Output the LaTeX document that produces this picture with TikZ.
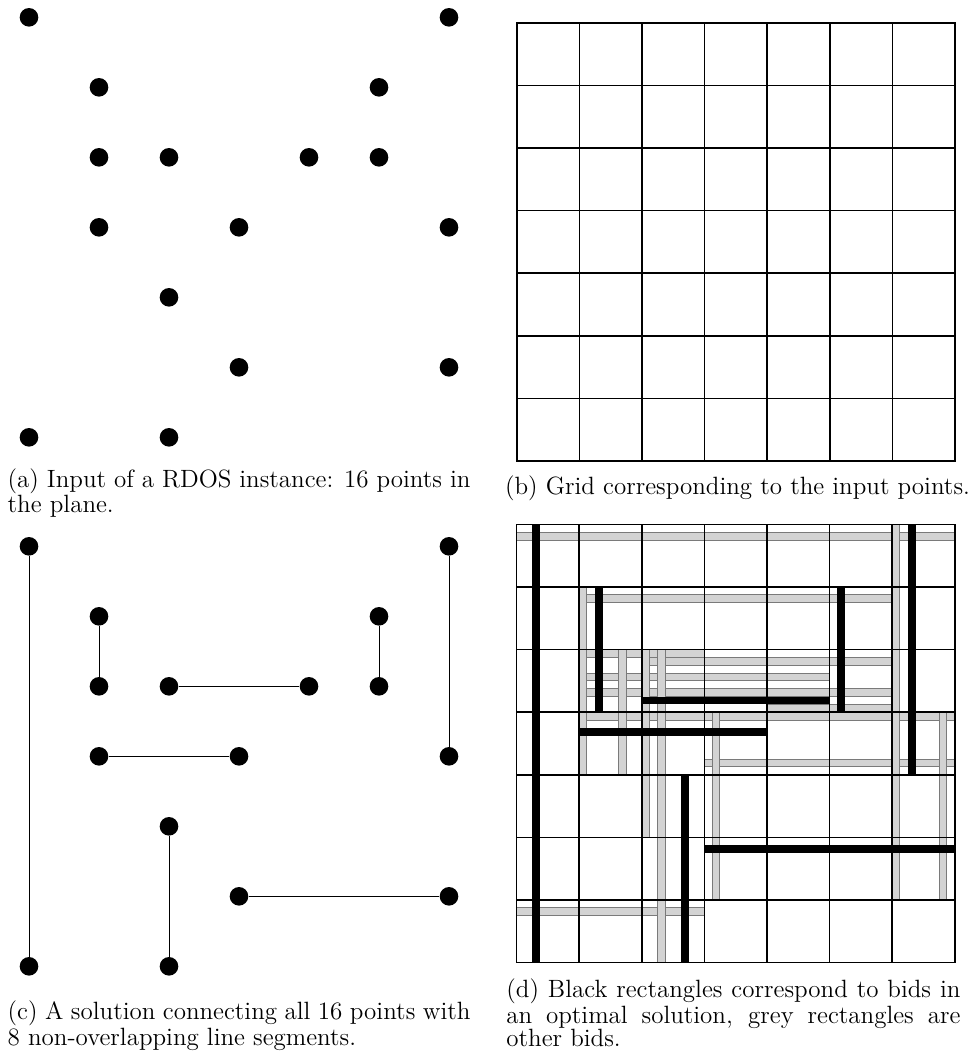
\documentclass[tikz,border=0pt]{standalone}
\usepackage{tikz}
\usetikzlibrary{positioning}
\definecolor{bidgrey}{HTML}{D3D3D3}
\definecolor{bidedge}{HTML}{7A7A7A}
\newcommand{\capfont}{\fontsize{12.5}{11.4}\selectfont}

\begin{document}
\begin{tikzpicture}[x=0.5pt,y=-0.5pt,
    dot/.style={circle,fill=black,inner sep=0pt,minimum size=9.3pt},
    seg/.style={black,line width=0.5pt},
    gridline/.style={black,line width=0.8pt},
    greybid/.style={fill=bidgrey,draw=bidedge,line width=0.5pt},
    blackbid/.style={fill=black},
    subcap/.style={inner sep=0pt,font=\capfont,align=justify}]
  \useasboundingbox (0,0) rectangle (970,1061);

  % (a) the input points
  \foreach \i/\j in {0/0,6/0,1/1,5/1,1/2,2/2,4/2,5/2,1/3,3/3,6/3,2/4,3/5,6/5,0/6,2/6}
    \node[dot] (a-\i-\j) at (29+70*\i,17.3+70*\j) {};
  \node[subcap,text width=231.4pt,anchor=north west] (capa) at (7.3,468)
    {(a) Input of a RDOS instance: 16 points in the plane.};

  % (b) the grid
  \begin{scope}[shift={(516.7,22.7)},x=31.3pt,y=-31.3pt]
    \draw[gridline] (0,0) rectangle (7,7);
    \foreach \i in {1,...,6} {
      \draw[gridline] (\i,0) -- (\i,7);
      \draw[gridline] (0,\i) -- (7,\i);
    }
  \end{scope}
  \node[subcap,anchor=base] (capb) at (737.5,494)
    {(b) Grid corresponding to the input points.};

  % (c) a solution
  \foreach \i/\j in {0/0,6/0,1/1,5/1,1/2,2/2,4/2,5/2,1/3,3/3,6/3,2/4,3/5,6/5,0/6,2/6}
    \node[dot] (c-\i-\j) at (29+70*\i,546.3+70*\j) {};
  \draw[seg] (c-0-0) -- (c-0-6);
  \draw[seg] (c-1-1) -- (c-1-2);
  \draw[seg] (c-2-2) -- (c-4-2);
  \draw[seg] (c-5-1) -- (c-5-2);
  \draw[seg] (c-6-0) -- (c-6-3);
  \draw[seg] (c-1-3) -- (c-3-3);
  \draw[seg] (c-2-4) -- (c-2-6);
  \draw[seg] (c-3-5) -- (c-6-5);
  \node[subcap,text width=231.4pt,anchor=north west] (capc) at (7.3,1000.5)
    {(c) A solution connecting all 16 points with 8 non-overlapping line segments.};

  % (d) bids on the grid
  \begin{scope}[shift={(516.5,524.4)},x=31.3pt,y=-31.3pt]
    % grey bids, rows then columns
    \foreach \r/\a/\b/\k in {0/0/6/1,1/1/5/1,2/1/2/0,2/2/5/1,2/1/4/3,2/1/5/5,2/4/5/7,3/1/6/0,3/3/6/6,6/0/2/1}
      \draw[greybid] (\a,\r+\k/8) rectangle (\b+1,\r+\k/8+1/8);
    \foreach \col/\a/\b/\k in {1/1/3/0,1/2/3/5,2/2/4/0,2/2/6/2,3/3/5/1,6/0/5/0,6/3/5/6}
      \draw[greybid] (\col+\k/8,\a) rectangle (\col+\k/8+1/8,\b+1);
    \draw[gridline] (0,0) rectangle (7,7);
    \foreach \i in {1,...,6} {
      \draw[gridline] (\i,0) -- (\i,7);
      \draw[gridline] (0,\i) -- (7,\i);
    }
    % black bids (optimal solution)
    \foreach \r/\a/\b/\k in {2/2/4/6,3/1/3/2,5/3/6/1}
      \fill[blackbid] (\a,\r+\k/8) rectangle (\b+1,\r+\k/8+1/8);
    \foreach \col/\a/\b/\k in {0/0/6/2,1/1/2/2,2/4/6/5,5/1/2/1,6/0/3/2}
      \fill[blackbid] (\col+\k/8,\a) rectangle (\col+\k/8+1/8,\b+1);
  \end{scope}
  \node[subcap,text width=227pt,anchor=north west] (capd) at (506,978.5)
    {(d) Black rectangles correspond to bids in an optimal solution, grey rectangles are other bids.};
\end{tikzpicture}
\end{document}
